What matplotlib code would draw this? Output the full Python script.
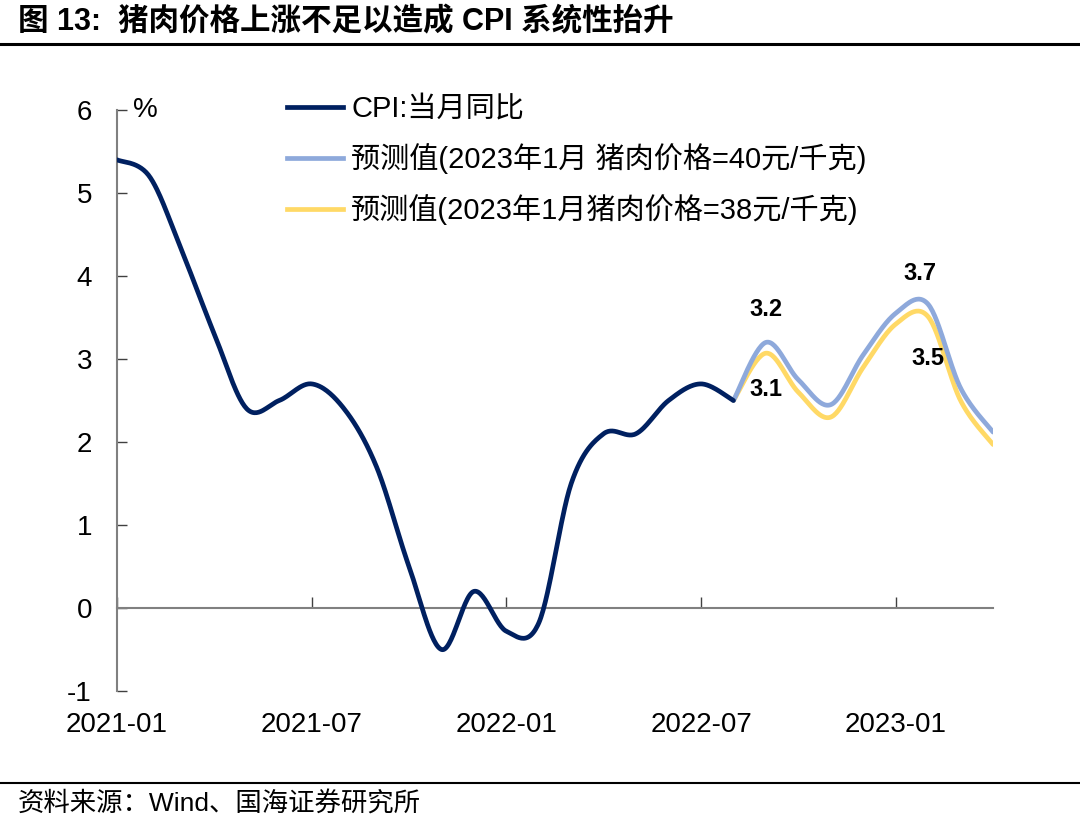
import numpy as np
import matplotlib
matplotlib.use("Agg")
import matplotlib.pyplot as plt
from matplotlib.lines import Line2D

plt.rcParams['font.family'] = ['Liberation Sans', 'Noto Sans CJK SC', 'DejaVu Sans']

# ---------------- data ----------------
tick_labels = ["2021-01", "2021-07", "2022-01", "2022-07", "2023-01"]
tick_idx = [0, 6, 12, 18, 24]

cpi = [5.4, 5.2, 4.3, 3.3, 2.4, 2.5, 2.7, 2.4, 1.7, 0.5, -0.5, 0.2, -0.28, -0.18,
       1.5, 2.1, 2.1, 2.5, 2.7, 2.5]
fc_start = 19
fc_40 = [2.5, 3.2, 2.75, 2.45, 3.05, 3.55, 3.66, 2.65, 2.12]
fc_38 = [2.5, 3.07, 2.6, 2.3, 2.9, 3.42, 3.51, 2.5, 1.97]

labels = ["CPI:当月同比", "预测值(2023年1月 猪肉价格=40元/千克)", "预测值(2023年1月猪肉价格=38元/千克)"]
colors = ["#002060", "#8EA9DB", "#FFD966"]


def smooth(x, y, n=30):
    """Excel-like smoothed line (Catmull-Rom Bezier) for rendering."""
    x = np.asarray(x, float); y = np.asarray(y, float)
    P = np.column_stack([x, y])
    out = []
    for i in range(len(P) - 1):
        p0 = P[i - 1] if i > 0 else P[i]
        p1 = P[i]; p2 = P[i + 1]
        p3 = P[i + 2] if i + 2 < len(P) else P[i + 1]
        c1 = p1 + (p2 - p0) / 6.0
        c2 = p2 - (p3 - p1) / 6.0
        t = np.linspace(0, 1, n, endpoint=(i == len(P) - 2))[:, None]
        seg = ((1 - t) ** 3) * p1 + 3 * ((1 - t) ** 2) * t * c1 + 3 * (1 - t) * t ** 2 * c2 + t ** 3 * p2
        out.append(seg)
    S = np.vstack(out)
    return S[:, 0], S[:, 1]


fig = plt.figure(figsize=(10.8, 8.21), dpi=100)
ax = fig.add_axes([117 / 1080, 1 - 691 / 821, (993 - 117) / 1080, (691 - 110) / 821])

x_cpi = np.arange(len(cpi))
x_fc = np.arange(fc_start, fc_start + len(fc_40))

xs, ys = smooth(x_fc, fc_38)
ax.plot(xs, ys, color=colors[2], lw=3.4, solid_capstyle='round', zorder=3)
xs, ys = smooth(x_fc, fc_40)
ax.plot(xs, ys, color=colors[1], lw=3.4, solid_capstyle='round', zorder=4)
xs, ys = smooth(x_cpi, cpi)
ax.plot(xs, ys, color=colors[0], lw=3.4, solid_capstyle='round', zorder=5)

ax.set_xlim(0, 27)
ax.set_ylim(-1, 6)

# spines
for s in ['top', 'right']:
    ax.spines[s].set_visible(False)
ax.spines['left'].set_color('#808080')
ax.spines['left'].set_linewidth(1.5)
ax.spines['bottom'].set_position(('data', 0))
ax.spines['bottom'].set_color('#808080')
ax.spines['bottom'].set_linewidth(1.5)

ax.set_yticks(range(-1, 7))
ax.set_yticklabels([str(v) for v in range(-1, 7)])
ax.tick_params(axis='y', direction='in', length=7, width=1, color='#404040',
               labelsize=20, pad=18)

ax.set_xticks(tick_idx)
ax.tick_params(axis='x', direction='in', length=8, width=1, color='#404040',
               labelbottom=False)

sec = ax.secondary_xaxis(0.0)
sec.set_xticks(tick_idx)
sec.set_xticklabels(tick_labels)
sec.spines['bottom'].set_visible(False)
sec.tick_params(axis='x', length=0, labelsize=20, pad=15)

ax.text(0.018, 1.0, "%", transform=ax.transAxes, fontsize=20, ha='left', va='center')

# data labels
lab_kw = dict(fontsize=17, fontweight='bold', ha='center', va='center', zorder=6)
ax.annotate(f"{fc_40[1]:.1f}", (x_fc[1], fc_40[1]), xytext=(0, 24), textcoords='offset points', **lab_kw)
ax.annotate(f"{fc_38[1]:.1f}", (x_fc[1], fc_38[1]), xytext=(0, -26), textcoords='offset points', **lab_kw)
ax.annotate(f"{fc_40[6]:.1f}", (x_fc[6], fc_40[6]), xytext=(-6, 22), textcoords='offset points', **lab_kw)
ax.annotate(f"{fc_38[6]:.1f}", (x_fc[6], fc_38[6]), xytext=(0, -30), textcoords='offset points', **lab_kw)

handles = [Line2D([], [], color=c, lw=3.4) for c in colors]
leg = fig.legend(handles, labels, loc='upper left', bbox_to_anchor=(261 / 1080, 1 - 69 / 821),
                 frameon=False, fontsize=21, handlelength=1.9, handletextpad=0.3,
                 labelspacing=0.68)

# title and rules
fig.text(18 / 1080, 1 - 22 / 821, "图 13:  猪肉价格上涨不足以造成 CPI 系统性抬升",
         fontsize=22, fontweight='bold', ha='left', va='center')
fig.add_artist(Line2D([0, 1], [1 - 44 / 821, 1 - 44 / 821], color='black', lw=2.2,
                      transform=fig.transFigure))
fig.add_artist(Line2D([0, 1], [1 - 783 / 821, 1 - 783 / 821], color='black', lw=1.5,
                      transform=fig.transFigure))
fig.text(18 / 1080, 1 - 804 / 821, "资料来源：Wind、国海证券研究所", fontsize=19,
         ha='left', va='center')

fig.savefig("out.png", dpi=100)
